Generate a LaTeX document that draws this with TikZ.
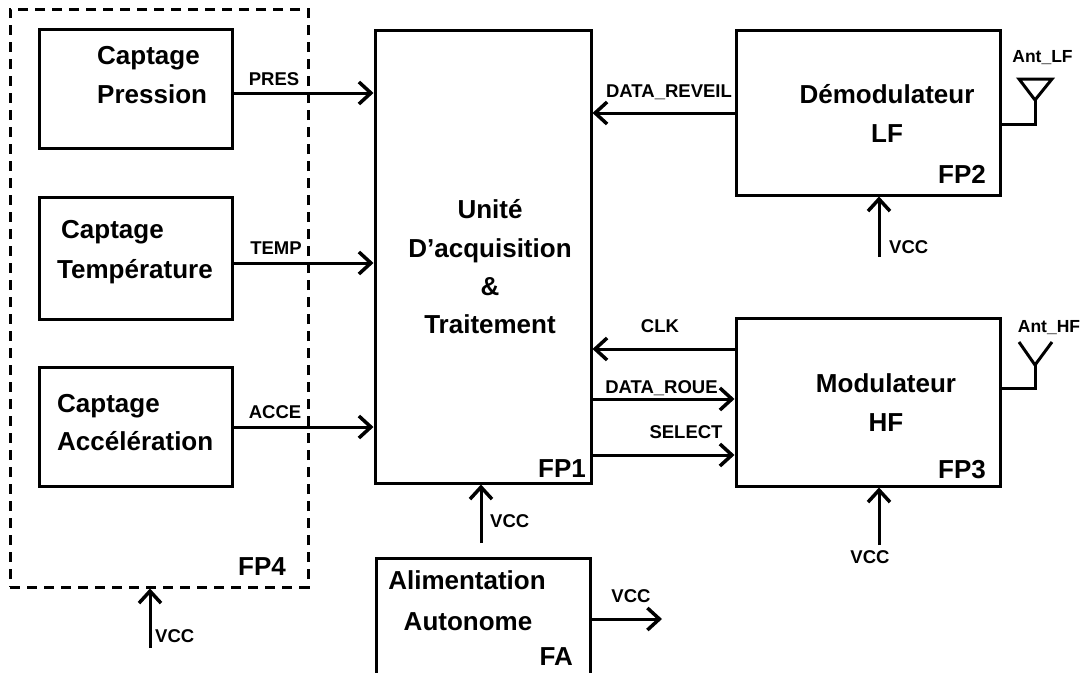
\documentclass[tikz,border=0pt]{standalone}
\usepackage{fontspec}
\setmainfont{Liberation Sans}
\usetikzlibrary{arrows.meta}
\begin{document}
\begin{tikzpicture}[x=1pt,y=-1pt,
  box/.style={draw, line width=3pt, rectangle, inner sep=0pt},
  dbox/.style={draw, line width=3pt, rectangle, inner sep=0pt, dash pattern=on 10pt off 7pt},
  arr/.style={line width=3pt, -{Straight Barb[length=12pt,width=22pt,line width=3.5pt]}},
  wire/.style={line width=3pt},
  title/.style={font=\fontsize{26pt}{30pt}\selectfont\bfseries, inner sep=0pt},
  lbl/.style={font=\fontsize{18.5pt}{21pt}\selectfont\bfseries, inner sep=0pt},
  albl/.style={font=\fontsize{17.5pt}{21pt}\selectfont\bfseries, inner sep=0pt}]
\useasboundingbox (0,0) rectangle (1084,672);
\fill[white] (0,0) rectangle (1084,672);
\clip (0,0) rectangle (1084,672);

% boxes
\node[dbox, minimum width=298pt, minimum height=578pt] (FP4) at (159,298) {};
\node[box, minimum width=193pt, minimum height=119pt] (CP) at (135.5,88.5) {};
\node[box, minimum width=193pt, minimum height=122pt] (CT) at (135.5,258) {};
\node[box, minimum width=193pt, minimum height=119pt] (CA) at (135.5,426.5) {};
\node[box, minimum width=216pt, minimum height=453pt] (FP1) at (483,256.5) {};
\node[box, minimum width=264pt, minimum height=165pt] (DEM) at (868,112.5) {};
\node[box, minimum width=264pt, minimum height=168pt] (MOD) at (868,402) {};
\node[box, minimum width=214pt, minimum height=132pt] (ALIM) at (483,624) {};

% titles
\node[title, anchor=base west] (cp1) at (97,64) {Captage};
\node[title, anchor=base west] (cp2) at (97,103) {Pression};
\node[title, anchor=base west] (ct1) at (61,238) {Captage};
\node[title, anchor=base west] (ct2) at (57,278) {Température};
\node[title, anchor=base west] (ca1) at (57,412) {Captage};
\node[title, anchor=base west] (ca2) at (57,450) {Accélération};
\node[title, anchor=base] (u1) at (490,218) {Unité};
\node[title, anchor=base] (u2) at (490,257) {D’acquisition};
\node[title, anchor=base] (u3) at (490,295) {\&};
\node[title, anchor=base] (u4) at (490,333) {Traitement};
\node[title, anchor=base] (d1) at (887,103) {Démodulateur};
\node[title, anchor=base] (d2) at (887,142) {LF};
\node[title, anchor=base] (m1) at (886,392) {Modulateur};
\node[title, anchor=base] (m2) at (886,431) {HF};
\node[title, anchor=base] (a1) at (467,589) {Alimentation};
\node[title, anchor=base] (a2) at (468,630) {Autonome};
\node[title, anchor=base east] (fp1) at (586,477) {FP1};
\node[title, anchor=base east] (fp2) at (986,183) {FP2};
\node[title, anchor=base east] (fp3) at (986,478) {FP3};
\node[title, anchor=base east] (fp4) at (286,575) {FP4};
\node[title, anchor=base east] (fa) at (573,665) {FA};

% connector heights
\coordinate (yPRES) at (0,93);
\coordinate (yTEMP) at (0,263);
\coordinate (yACCE) at (0,427);
\coordinate (yREV) at (0,113);
\coordinate (yCLK) at (0,349);
\coordinate (yROUE) at (0,399);
\coordinate (ySEL) at (0,455);

\draw[arr] (CP.east |- yPRES) -- (FP1.west |- yPRES);
\draw[arr] (CT.east |- yTEMP) -- (FP1.west |- yTEMP);
\draw[arr] (CA.east |- yACCE) -- (FP1.west |- yACCE);
\draw[arr] (DEM.west |- yREV) -- (FP1.east |- yREV);
\draw[arr] (MOD.west |- yCLK) -- (FP1.east |- yCLK);
\draw[arr] (FP1.east |- yROUE) -- (MOD.west |- yROUE);
\draw[arr] (FP1.east |- ySEL) -- (MOD.west |- ySEL);

\node[lbl, anchor=base] (lpres) at (274,85) {PRES};
\node[lbl, anchor=base] (ltemp) at (276,254) {TEMP};
\node[lbl, anchor=base] (lacce) at (275,418) {ACCE};
\node[lbl, anchor=base] (lrev) at (669,97) {DATA\_REVEIL};
\node[lbl, anchor=base] (lclk) at (660,332) {CLK};
\node[lbl, anchor=base] (lroue) at (661.5,393) {DATA\_ROUE};
\node[lbl, anchor=base] (lsel) at (686,438) {SELECT};

% VCC supplies
\coordinate (v4) at (150,648);
\coordinate (v1) at (481,543);
\coordinate (vd) at (879,257);
\coordinate (vm) at (879,545);
\coordinate (va) at (662,619);
\draw[arr] (v4) -- (FP4.south -| v4);
\draw[arr] (v1) -- (FP1.south -| v1);
\draw[arr] (vd) -- (DEM.south -| vd);
\draw[arr] (vm) -- (MOD.south -| vm);
\draw[arr] (ALIM.east |- va) -- (va);
\node[lbl, anchor=base west] (lv4) at (155,642) {VCC};
\node[lbl, anchor=base west] (lv1) at (490,527) {VCC};
\node[lbl, anchor=base west] (lvd) at (889,253) {VCC};
\node[lbl, anchor=base] (lvm) at (870,563) {VCC};
\node[lbl, anchor=base] (lva) at (631,602) {VCC};

% antennas
\coordinate (alf) at (1035,124);
\coordinate (alfa) at (1035,100);
\draw[wire] (DEM.east |- alf) -- (alf) -- (alfa);
\draw[wire, line join=miter] (1019,79) -- (1052,79) -- (alfa) -- cycle;
\node[albl, anchor=base] (antlf) at (1042.5,62) {Ant\_LF};

\coordinate (ahf) at (1035,388);
\coordinate (ahfa) at (1035,365);
\draw[wire] (MOD.east |- ahf) -- (ahf) -- (ahfa);
\draw[wire] (1019,342) -- (ahfa) -- (1052,342);
\node[albl, anchor=base] (anthf) at (1049,332) {Ant\_HF};
\end{tikzpicture}
\end{document}
